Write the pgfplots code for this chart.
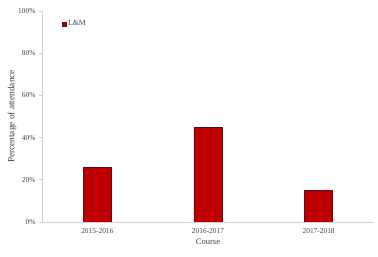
\documentclass[border=0pt]{standalone}
\usepackage{pgfplots}
\pgfplotsset{compat=1.18}
\usepackage{fontspec}
\setmainfont{Liberation Serif}
\definecolor{barred}{HTML}{C00000}
\definecolor{baredge}{HTML}{5A1010}
\definecolor{axgray}{HTML}{D0D0D0}
\begin{document}
\begin{tikzpicture}
\useasboundingbox (-42pt,-35pt) rectangle (336pt,222pt);
\begin{axis}[
  at={(0,0)}, anchor=south west,
  scale only axis, width=332pt, height=211pt,
  xmin=-0.5, xmax=2.5, ymin=0, ymax=100,
  axis x line*=bottom, axis y line*=left,
  axis line style={axgray, line width=0.6pt},
  xtick={0,1,2},
  xticklabels={2015-2016,2016-2017,2017-2018},
  x tick style={draw=none},
  extra x ticks={0.5,1.5},
  extra x tick labels={},
  extra x tick style={tick style={draw=axgray, line width=0.6pt}, major tick length=3pt, tick align=outside},
  ytick={0,20,40,60,80,100},
  yticklabels={0\%,20\%,40\%,60\%,80\%,100\%},
  y tick style={draw=axgray, line width=0.6pt},
  major tick length=3pt, tick align=outside,
  tick label style={font=\fontsize{7.4}{8}\selectfont, text=black!75},
  /pgf/number format/assume math mode=true,
  xlabel={Course}, ylabel={Percentage of attendance},
  xlabel style={font=\fontsize{8.5}{9}\selectfont, text=black!75, yshift=8pt},
  ylabel style={font=\fontsize{9.3}{10}\selectfont, text=black!75, yshift=-5pt},
  legend style={draw=none, fill=none, at={(0.05,0.975)}, anchor=north west,
    font=\fontsize{7.8}{8}\selectfont, text=black!75},
  legend image code/.code={\draw[fill=barred, draw=baredge, line width=0.3pt] (0pt,-2pt) rectangle (4pt,2pt);},
]
\addplot[ybar, bar width=28pt, fill=barred, draw=baredge, line width=0.6pt]
  coordinates {(0,26) (1,45) (2,15)};
\addlegendentry{L\&M}
\end{axis}
\end{tikzpicture}
\end{document}
